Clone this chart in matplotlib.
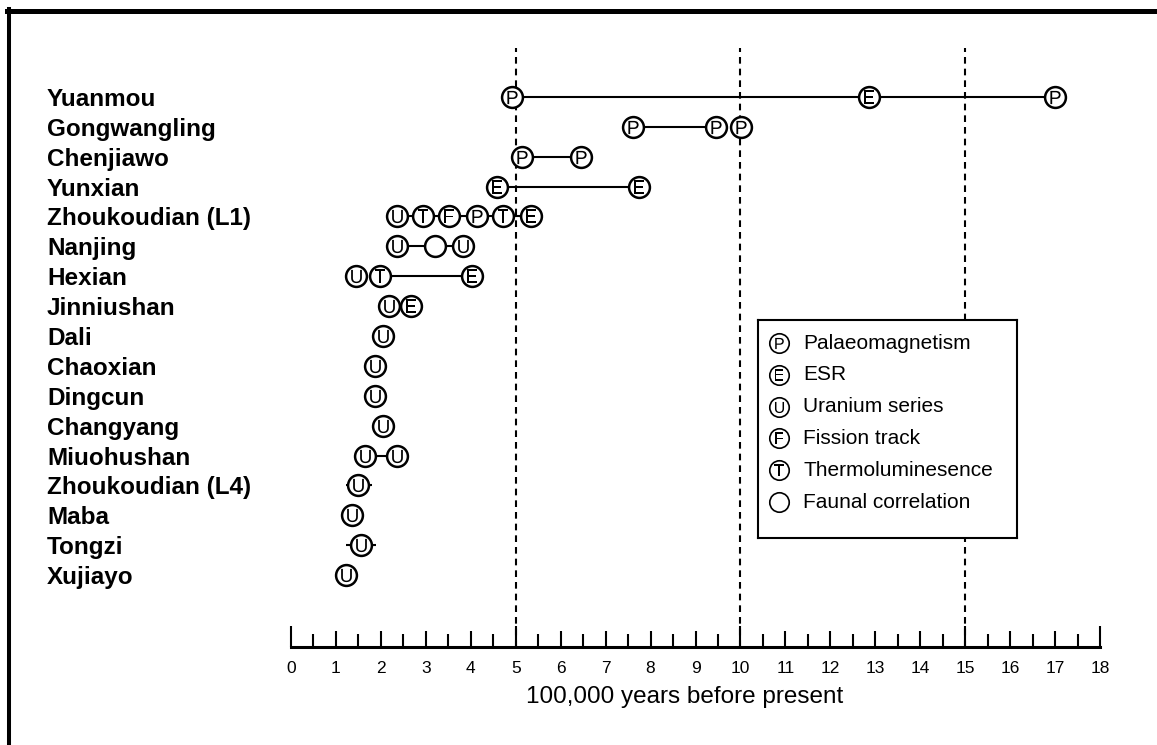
import numpy as np
import matplotlib
matplotlib.use('Agg')
import matplotlib.pyplot as plt
from matplotlib.lines import Line2D

plt.rcParams['font.family'] = 'Liberation Sans'
plt.rcParams['mathtext.fontset'] = 'custom'
plt.rcParams['mathtext.rm'] = 'Liberation Sans'

# sites, top to bottom
sites = ['Yuanmou', 'Gongwangling', 'Chenjiawo', 'Yunxian', 'Zhoukoudian (L1)',
         'Nanjing', 'Hexian', 'Jinniushan', 'Dali', 'Chaoxian', 'Dingcun',
         'Changyang', 'Miuohushan', 'Zhoukoudian (L4)', 'Maba', 'Tongzi', 'Xujiayo']

# dates (100,000 years BP) and the method used for each (o = faunal correlation)
dates = [
    [4.92, 12.85, 17.0],
    [7.6, 9.46, 10.02],
    [5.14, 6.45],
    [4.58, 7.75],
    [2.35, 2.94, 3.52, 4.13, 4.72, 5.34],
    [2.35, 3.2, 3.83],
    [1.45, 1.98, 4.02],
    [2.17, 2.67],
    [2.05],
    [1.87],
    [1.87],
    [2.05],
    [1.65, 2.35],
    [1.5],
    [1.35],
    [1.56],
    [1.22],
]
methods = ['PEP', 'PPP', 'PP', 'EE', 'UTFPTE', 'UoU', 'UTE', 'UE', 'U', 'U', 'U',
           'U', 'UU', 'U', 'U', 'U', 'U']

# range lines drawn behind the circles
span_lo = [4.92, 7.6, 5.14, 4.58, 2.35, 2.35, 1.98, None, None, None, None,
           None, 1.65, 1.22, None, 1.22, None]
span_hi = [17.0, 9.46, 6.45, 7.75, 5.34, 3.83, 4.02, None, None, None, None,
           None, 2.35, 1.80, None, 1.89, None]

ref_lines = [5, 10, 15]

legend_codes = ['P', 'E', 'U', 'F', 'T', 'o']
legend_names = ['Palaeomagnetism', 'ESR', 'Uranium series', 'Fission track',
                'Thermoluminesence', 'Faunal correlation']

W, H = 1157, 745
fig = plt.figure(figsize=(W / 100, H / 100), dpi=100)
ax = fig.add_axes([291 / W, 1 - 646.5 / H, 809 / W, (646.5 - 48) / H])

# dashed reference lines
for xv in ref_lines:
    ax.axvline(xv, color='black', lw=1.5, ls=(0, (3.2, 2.4)), zorder=1)

# ranges
for i, (lo, hi) in enumerate(zip(span_lo, span_hi)):
    if lo is not None:
        ax.plot([lo, hi], [i, i], color='black', lw=1.5, zorder=2,
                solid_capstyle='butt')

# circles
xs = [x for row in dates for x in row]
ys = [i for i, row in enumerate(dates) for _ in row]
cs = [c for m in methods for c in m]
ax.plot(xs, ys, ls='none', marker='o', ms=15, mfc='white', mec='black',
        mew=1.8, zorder=3)

# letters inside circles
for code in 'PEUFT':
    px = [x for x, c in zip(xs, cs) if c == code]
    py = [y for y, c in zip(ys, cs) if c == code]
    ax.plot(px, py, ls='none', marker='$\\mathregular{%s}$' % code, ms=9.5,
            mfc='black', mec='none', mew=0, zorder=4)

ax.set_xlim(0, 18)
ax.set_ylim(18.393, -1.640)
for s in ['top', 'right', 'left']:
    ax.spines[s].set_visible(False)
ax.spines['bottom'].set_linewidth(2.2)

ax.set_xticks(range(19))
ax.set_xticks(np.arange(0.5, 18, 1), minor=True)
ax.tick_params(axis='x', which='major', direction='in', length=11.5, width=1.5,
               labelsize=12.5, pad=10.5)
ax.tick_params(axis='x', which='minor', direction='in', length=9.4, width=1.5)
for v, t in zip(range(19), ax.xaxis.get_major_ticks()):
    if v in (0, 5, 10, 15, 18):
        t.tick1line.set_markersize(15)

ax.set_yticks(range(len(sites)), sites, fontweight='bold', fontsize=17.5)
ax.tick_params(axis='y', length=0, pad=(291 - 47) * 0.72)
for lbl in ax.get_yticklabels():
    lbl.set_ha('left')

ax.set_xlabel('100,000 years before present', fontsize=17.5)
ax.xaxis.set_label_coords((685 - 291) / 809, (646.5 - 697) / 598.5)
ax.xaxis.label.set_va('center')

# legend box
lax = fig.add_axes([758 / W, 1 - 538 / H, 259 / W, 218 / H])
lax.set_xlim(0, 259)
lax.set_ylim(218, 0)
lax.set_xticks([])
lax.set_yticks([])
lax.set_facecolor('white')
for s in lax.spines.values():
    s.set_linewidth(1.5)
for i, (code, name) in enumerate(zip(legend_codes, legend_names)):
    yy = 23 + 31.8 * i
    lax.plot([21], [yy], marker='o', ms=14, mfc='white', mec='black', mew=1.2)
    if code != 'o':
        lax.plot([21], [yy], marker='$\\mathregular{%s}$' % code, ms=8,
                 mfc='black', mec='none', mew=0)
    lax.text(45, yy, name, fontsize=15, va='center', ha='left')

# frame (top and left edge)
fig.add_artist(Line2D([7 / W, 1], [1 - 11 / H, 1 - 11 / H], transform=fig.transFigure,
                      color='black', lw=3.6))
fig.add_artist(Line2D([8.5 / W, 8.5 / W], [1 - 9 / H, 0], transform=fig.transFigure,
                      color='black', lw=2.9))

fig.savefig('out.png', dpi=100)
